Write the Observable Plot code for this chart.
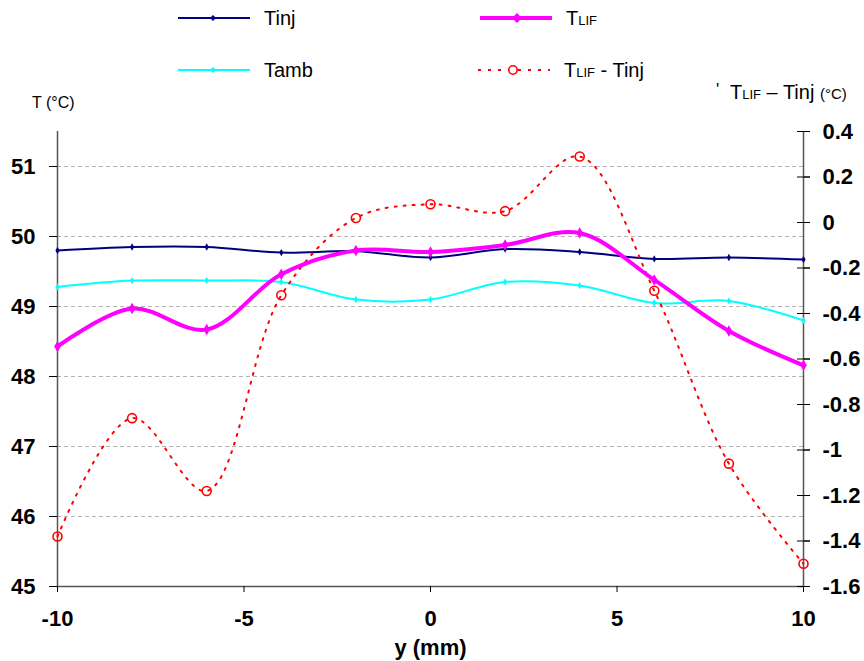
<!DOCTYPE html>
<html><head><meta charset="utf-8">
<script src="https://cdn.jsdelivr.net/npm/d3@7"></script>
<script src="https://cdn.jsdelivr.net/npm/@observablehq/plot@0.6"></script>
<style>
body{margin:0;background:#fff;font-family:"Liberation Sans",Arial,sans-serif;}
#wrap{width:864px;height:661px;position:relative;overflow:hidden;background:#fff}
#head{position:relative;width:864px;height:110px}
.item{position:absolute;display:flex;align-items:center;height:24px;font-size:20px;color:#000;white-space:nowrap}
.item svg{margin-right:14px}
.sub{font-size:13px}
</style></head><body>
<div id="wrap">
<div id="head">
  <div class="item" style="left:178px;top:6px"><svg width="72" height="12"><line x1="0" x2="72" y1="6" y2="6" stroke="#000080" stroke-width="2"/><path d="M35,3 L38,6 L35,9 L32,6Z" fill="#000080"/></svg><span>Tinj</span></div>
  <div class="item" style="left:480px;top:6px"><svg width="72" height="12"><line x1="0" x2="72" y1="6" y2="6" stroke="#ff00ff" stroke-width="4"/><path d="M37,1 L42,6 L37,11 L32,6Z" fill="#ff00ff"/></svg><span>T<span class="sub">LIF</span></span></div>
  <div class="item" style="left:178px;top:58px"><svg width="72" height="12"><line x1="0" x2="72" y1="6" y2="6" stroke="#00ffff" stroke-width="2"/><path d="M35,3 L38,6 L35,9 L32,6Z" fill="#00ffff"/></svg><span>Tamb</span></div>
  <div class="item" style="left:478px;top:58px"><svg width="72" height="12"><line x1="0" x2="72" y1="6" y2="6" stroke="#ff0000" stroke-width="2" stroke-dasharray="3,7"/><circle cx="35" cy="6" r="4.2" fill="white" stroke="#ff0000" stroke-width="1.6"/></svg><span>T<span class="sub">LIF</span> - Tinj</span></div>
  <div class="item" style="left:32px;top:91px;font-size:16px"><span>T (°C)</span></div>
  <div class="item" style="left:716px;top:80px"><span><span style="font-size:17px;vertical-align:4px">'</span>&nbsp; T<span class="sub">LIF</span> – Tinj <span style="font-size:15px">(°C)</span></span></div>
</div>
<div id="chart"></div>
</div>
<script>
const yPos = [-10, -8, -6, -4, -2, 0, 2, 4, 6, 8, 10];
const tInj = [49.80, 49.85, 49.85, 49.77, 49.79, 49.70, 49.82, 49.78, 49.68, 49.70, 49.67];
const tAmb = [49.28, 49.37, 49.37, 49.35, 49.10, 49.10, 49.35, 49.30, 49.05, 49.08, 48.80];
const tLif = [48.43, 48.97, 48.67, 49.46, 49.80, 49.78, 49.88, 50.05, 49.38, 48.65, 48.16];
const tDiff = [-1.38, -0.86, -1.18, -0.32, 0.02, 0.08, 0.05, 0.29, -0.30, -1.06, -1.50];
const xTicks = [-10, -5, 0, 5, 10];
const leftTicks = [45, 46, 47, 48, 49, 50, 51];
const gridTicks = [46, 47, 48, 49, 50, 51];
const rightTicks = [0.4, 0.2, 0, -0.2, -0.4, -0.6, -0.8, -1, -1.2, -1.4, -1.6];
const xDomain = [-10, 10];
const leftDomain = [45, 51.5];
const rightDomain = [-1.6, 0.4];

const toLeft = d3.scaleLinear().domain(rightDomain).range(leftDomain);
const rows = yPos.map((x, i) => ({x, inj: tInj[i], amb: tAmb[i], lif: tLif[i], diff: toLeft(tDiff[i])}));
const curve = "catmull-rom";
const hTick = {draw(ctx, size) { const r = Math.sqrt(size / Math.PI); ctx.moveTo(-r, 0); ctx.lineTo(r, 0); }};

const chart = Plot.plot({
  width: 864, height: 551,
  marginTop: 21, marginBottom: 75, marginLeft: 57, marginRight: 61,
  style: {fontFamily: "Liberation Sans, Arial, sans-serif", fontWeight: "bold", color: "#000", background: "#fff", overflow: "visible"},
  x: {domain: xDomain},
  y: {domain: leftDomain},
  marks: [
    Plot.gridY(gridTicks, {stroke: "#b4b4b4", strokeOpacity: 1, strokeDasharray: "4,3"}),
    Plot.ruleY([leftDomain[0]], {stroke: "#555", strokeWidth: 1.5}),
    Plot.ruleX(xDomain, {stroke: "#555", strokeWidth: 1.5}),
    Plot.axisY(leftTicks, {anchor: "left", tickSize: 8, tickPadding: 14, fontSize: 22, tickFormat: d => String(d), label: null}),
    Plot.axisY(rightTicks.map(toLeft), {anchor: "right", tickSize: 6, tickPadding: 13, fontSize: 22, tickFormat: d => String(Math.round(toLeft.invert(d) * 10) / 10), label: null}),
    Plot.dot(rightTicks.map(toLeft), {x: () => xDomain[1], y: d => d, symbol: hTick, r: 6.5, stroke: "#000", strokeWidth: 1}),
    Plot.axisX(xTicks, {anchor: "bottom", tickSize: 6, tickPadding: 18, fontSize: 22, tickFormat: d => String(d), label: "y (mm)", labelAnchor: "center", labelOffset: 68, labelArrow: "none"}),
    Plot.line(rows, {x: "x", y: "amb", stroke: "#00ffff", strokeWidth: 2, curve}),
    Plot.dot(rows, {x: "x", y: "amb", symbol: "diamond", r: 2.2, fill: "#00ffff"}),
    Plot.line(rows, {x: "x", y: "inj", stroke: "#000080", strokeWidth: 2, curve}),
    Plot.dot(rows, {x: "x", y: "inj", symbol: "diamond", r: 2.2, fill: "#000080"}),
    Plot.line(rows, {x: "x", y: "diff", stroke: "#ff0000", strokeWidth: 2, strokeDasharray: "2,7", curve}),
    Plot.dot(rows, {x: "x", y: "diff", r: 4.5, stroke: "#ff0000", strokeWidth: 1.6, fill: "none"}),
    Plot.line(rows, {x: "x", y: "lif", stroke: "#ff00ff", strokeWidth: 4, curve}),
    Plot.dot(rows, {x: "x", y: "lif", symbol: "diamond", r: 3.5, fill: "#ff00ff"})
  ]
});
document.getElementById("chart").appendChild(chart);
</script>
</body></html>
